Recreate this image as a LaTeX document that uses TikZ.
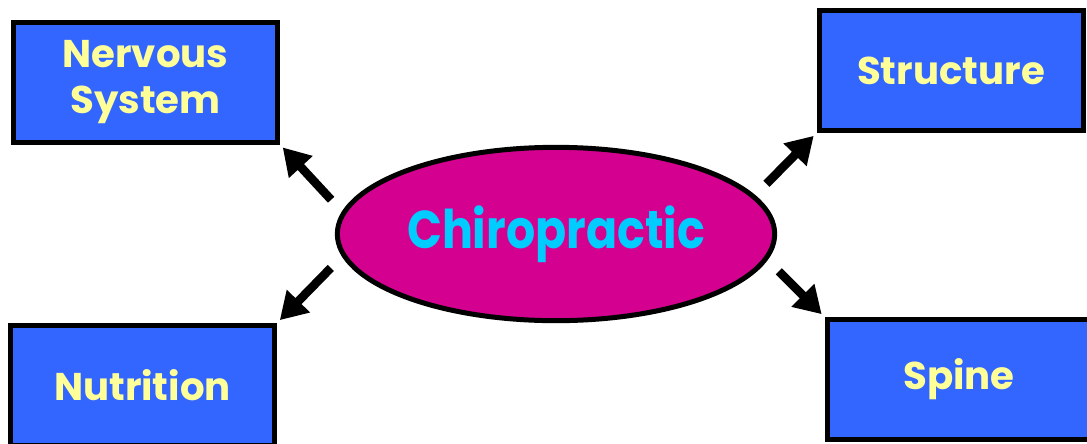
\documentclass[tikz,border=0pt]{standalone}
\usepackage{fontspec}
\setmainfont{Poppins}
\newfontfamily\hubfont[FakeStretch=0.86]{Poppins}
\usetikzlibrary{arrows.meta,shapes.geometric}

\definecolor{topicblue}{HTML}{3366FF}
\definecolor{topicyellow}{HTML}{FFFF99}
\definecolor{hubmagenta}{HTML}{D40090}
\definecolor{hubcyan}{HTML}{00CCFF}

\begin{document}
\begin{tikzpicture}[x=0.75pt, y=-0.75pt,
                topic/.style={draw=black, line width=3.75pt, fill=topicblue, text=topicyellow,
                    minimum width=198pt, minimum height=90pt, inner sep=0pt, align=center,
                    font=\fontsize{29}{34}\selectfont\bfseries},
                hub/.style={ellipse, draw=black, line width=3.75pt, fill=hubmagenta, text=hubcyan,
                    minimum width=328pt, minimum height=130pt, inner sep=0pt,
                    font=\hubfont\fontsize{40}{44}\selectfont\bfseries},
                bigarrow/.style={line width=6.5pt, -{Triangle[length=20pt, width=23pt]},
                    shorten <=12pt, shorten >=3pt}]
                % Frame of the slide:
                \useasboundingbox (0, 0) rectangle (1087, 443);
                \clip (0, 0) rectangle (1087, 443);
                % Centre and the four topics:
                \node[hub](chiro) at (556, 234){Chiropractic};
                \node[topic](nervous) at (145.5, 82){Nervous\\System};
                \node[topic](structure) at (951, 70.5){Structure};
                \node[topic](nutrition) at (142.5, 385.5){Nutrition};
                \node[topic](spine) at (959, 379.5){Spine};
                % Arrows:
                \draw[bigarrow] (chiro.174) -- (nervous.south east);
                \draw[bigarrow] (chiro.186) -- (nutrition.north east);
                \draw[bigarrow] (chiro.11) -- (structure.south west);
                \draw[bigarrow] (chiro.353) -- (spine.north west);
            \end{tikzpicture}
\end{document}
